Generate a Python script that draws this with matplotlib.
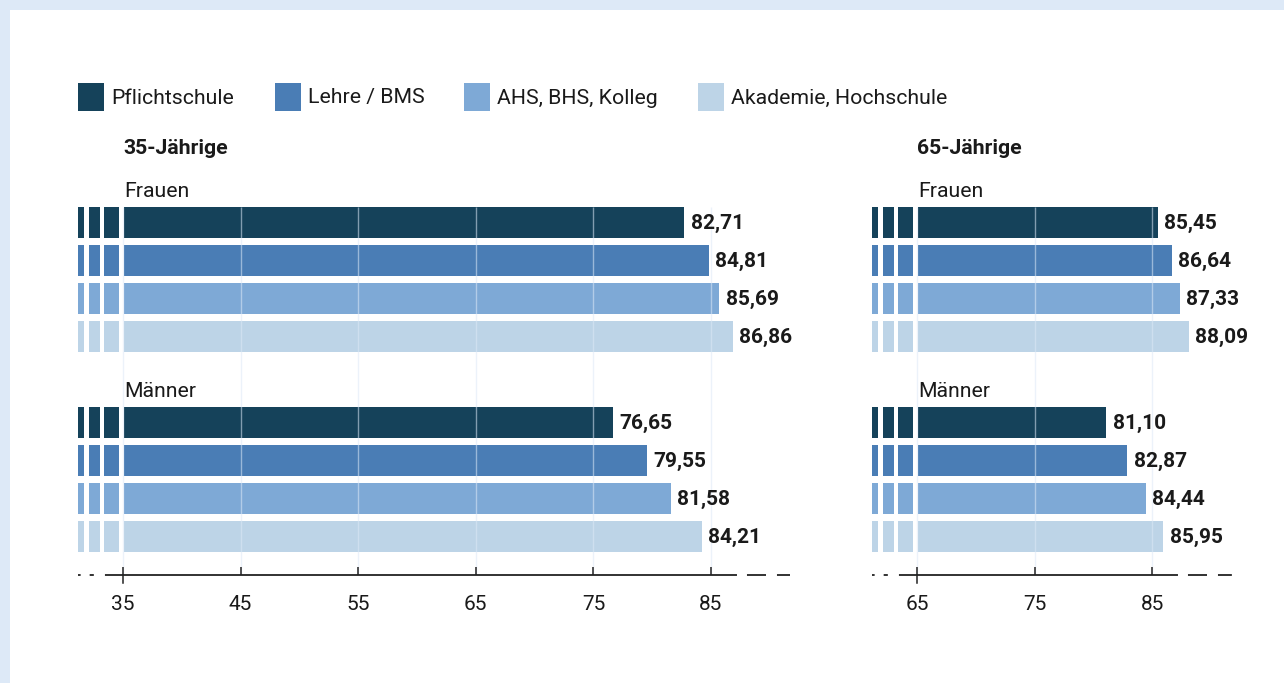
import matplotlib
matplotlib.use('Agg')
import matplotlib.pyplot as plt
from matplotlib.patches import Rectangle

# ---------------- data ----------------
categories = ['Pflichtschule', 'Lehre / BMS', 'AHS, BHS, Kolleg', 'Akademie, Hochschule']
colors = ['#15425a', '#4a7db5', '#7ea9d6', '#bdd4e7']
frauen_35 = [82.71, 84.81, 85.69, 86.86]
maenner_35 = [76.65, 79.55, 81.58, 84.21]
frauen_65 = [85.45, 86.64, 87.33, 88.09]
maenner_65 = [81.10, 82.87, 84.44, 85.95]
ticks_35 = [35, 45, 55, 65, 75, 85]
ticks_65 = [65, 75, 85]
panel_titles = ['35-Jährige', '65-Jährige']
group_labels = ['Frauen', 'Männer']

FONT = ['Roboto', 'DejaVu Sans']
plt.rcParams['font.family'] = FONT
plt.rcParams['lines.scale_dashes'] = False
TXT = '#1a1a1a'
AXC = '#222222'

W, H = 1284, 683
fig = plt.figure(figsize=(W / 100, H / 100), dpi=100)
fig.patch.set_facecolor('#dde9f7')
fig.patches.append(Rectangle((10 / W, 0), 1 - 10 / W, 1 - 10 / H, transform=fig.transFigure,
                             facecolor='white', edgecolor='none', zorder=-5))

# legend
leg_x = [78, 275, 464, 698]
for x, c, lab in zip(leg_x, colors, categories):
    fig.patches.append(Rectangle((x / W, 1 - 111 / H), 26 / W, 28 / H, transform=fig.transFigure,
                                 facecolor=c, edgecolor='none', zorder=1))
    fig.text((x + 33) / W, 1 - 98 / H, lab, ha='left', va='center', fontsize=15.3, color=TXT)

ROW = 38.0
Y0 = 222.0
def yd(py):
    return (py - Y0) / ROW

manner_off = yd(422)
bar_h = 31 / ROW
stubs = [(-3.83, 0.51), (-2.89, 0.94), (-1.62, 1.28)]

panels = [
    dict(px=(78, 790), base=35, ticks=ticks_35, data=[frauen_35, maenner_35], title=panel_titles[0]),
    dict(px=(872, 1233), base=65, ticks=ticks_65, data=[frauen_65, maenner_65], title=panel_titles[1]),
]
SCALE = 117.6 / 10  # px per unit
top_px, bot_px = 130, 575
for p in panels:
    x0, x1 = p['px']
    base = p['base']
    ax = fig.add_axes([x0 / W, 1 - bot_px / H, (x1 - x0) / W, (bot_px - top_px) / H])
    ax.set_facecolor('none')
    xmin = base - 3.83
    xmax = xmin + (x1 - x0) / SCALE
    ax.set_xlim(xmin, xmax)
    ylo, yhi = yd(bot_px), yd(top_px)
    ax.set_ylim(ylo, yhi)
    for s in ax.spines.values():
        s.set_visible(False)
    ax.set_yticks([])
    ax.set_xticks(p['ticks'])
    ax.set_xticklabels([str(t) for t in p['ticks']])
    ax.tick_params(axis='x', direction='in', length=5.5, width=1.1, color=AXC, pad=14.5,
                   labelsize=15, labelcolor=TXT)
    ax.xaxis.set_zorder(6)

    for g, vals in enumerate(p['data']):
        off = 0 if g == 0 else manner_off
        for i, v in enumerate(vals):
            y = off + i
            for so, sw in stubs:
                ax.barh(y, sw, left=base + so, height=bar_h, color=colors[i], zorder=2)
            ax.barh(y, v - base - 0.08, left=base + 0.08, height=bar_h, color=colors[i], zorder=2)
            ax.text(v + 0.55, y + 0.03, f'{v:.2f}'.replace('.', ','), ha='left', va='center',
                    fontsize=15, fontweight='bold', color=TXT, zorder=4)
        ax.text(base + 0.1, off - 0.8, group_labels[g], ha='left', va='center', fontsize=15.3, color=TXT)
    ax.text(base, yd(149), p['title'], ha='left', va='center', fontsize=15.3, fontweight='bold', color=TXT)

    # gridlines
    ax.vlines(p['ticks'], ymin=ylo, ymax=-bar_h / 2, color='#dde9f7', alpha=0.55, lw=1, zorder=3)
    # axis line (solid within the scale, dashed where the axis is broken)
    ax.plot([base, 85], [ylo, ylo], color=AXC, lw=1.3, clip_on=False, zorder=5, solid_capstyle='butt')
    ax.plot([base, xmin], [ylo, ylo], color=AXC, lw=1.3, ls=(0, (13, 8, 3, 6.5, 2.5, 10)),
            clip_on=False, zorder=5, dash_capstyle='butt')
    ax.plot([85, xmax], [ylo, ylo], color=AXC, lw=1.3, ls=(0, (18.7, 7.2, 13.7, 7.9, 10, 10)),
            clip_on=False, zorder=5, dash_capstyle='butt')
    ax.plot([base, base], [ylo, ylo + 8 / ROW], color=AXC, lw=1.1, clip_on=False, zorder=5)

fig.savefig('out.png', dpi=100, facecolor=fig.get_facecolor())
